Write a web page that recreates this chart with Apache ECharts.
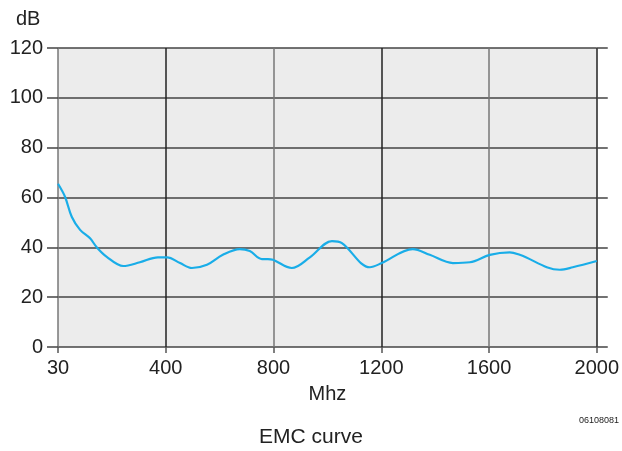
<!DOCTYPE html>
<html>
<head>
<meta charset="utf-8">
<script src="https://cdn.jsdelivr.net/npm/echarts@6/dist/echarts.min.js"></script>
<style>
  html, body { margin: 0; padding: 0; background: #fff; }
  #chart { width: 622px; height: 451px; }
</style>
</head>
<body>
<div id="chart"></div>
<script>
// frequency (MHz, axis starts at 0 though labelled 30) and level (dB)
const freqs = [0, 26, 51, 82, 119, 144, 181, 242, 304, 371, 405, 453, 497, 553, 612, 675, 712, 757, 779, 798, 868, 935, 1017, 1054, 1158, 1202, 1317, 1380, 1466, 1529, 1603, 1677, 1714, 1863, 1911, 2000]
const levels = [65.5, 60.3, 52.3, 47, 43.6, 40, 36.2, 32.5, 34, 36, 36, 33.7, 31.7, 33, 37, 39.3, 38.5, 35.3, 35.3, 35, 31.7, 36, 42.5, 41.7, 32, 33.7, 39.3, 37, 33.7, 34, 37, 38, 37, 31, 32, 34.5]
const xTickLabels = { 0: '30', 400: '400', 800: '800', 1200: '1200', 1600: '1600', 2000: '2000' }

const font = 'Liberation Sans, Arial, sans-serif'
const chart = echarts.init(document.getElementById('chart'), null, { renderer: 'canvas' })

const yCommon = {
  type: 'value',
  min: 0,
  max: 120,
  interval: 20,
  axisLine: { show: false },
  axisTick: { show: true, length: 11, lineStyle: { color: '#444', width: 1.5 } },
}

chart.setOption({
  animation: false,
  backgroundColor: '#fff',
  grid: {
    left: 58, right: 25, top: 48, bottom: 104,
    show: true, backgroundColor: '#ececec', borderWidth: 0,
  },
  graphic: [
    { type: 'text', left: 16, top: 9, style: { text: 'dB', font: '20px ' + font, fill: '#222' } },
    { type: 'text', right: 3, top: 416, style: { text: '06108081', font: '9px ' + font, fill: '#222' } },
    { type: 'text', left: 'center', top: 427, style: { text: 'EMC curve', font: '21px ' + font, fill: '#222' } },
  ],
  xAxis: {
    type: 'value',
    min: 0,
    max: 2000,
    interval: 400,
    name: 'Mhz',
    nameLocation: 'middle',
    nameGap: 37,
    nameTextStyle: { color: '#222', fontSize: 20, fontFamily: font },
    axisLine: { show: false },
    axisTick: { show: true, length: 6, lineStyle: { color: '#555', width: 1.5 } },
    axisLabel: {
      color: '#222', fontSize: 20, fontFamily: font, margin: 11,
      formatter: v => xTickLabels[v] ?? String(v),
    },
    splitLine: { show: true, lineStyle: { color: ['#777', '#222'], width: 1.5 } },
  },
  yAxis: [
    {
      ...yCommon,
      position: 'left',
      axisLabel: { color: '#222', fontSize: 20, fontFamily: font, margin: 15 },
      splitLine: { show: true, lineStyle: { color: '#444', width: 1.5 } },
    },
    {
      ...yCommon,
      position: 'right',
      axisLabel: { show: false },
      splitLine: { show: false },
    },
  ],
  series: [
    {
      type: 'line',
      data: freqs.map((f, i) => [f, levels[i]]),
      smooth: 0.35,
      showSymbol: false,
      lineStyle: { color: '#19ade8', width: 2.2 },
    },
  ],
})
</script>
</body>
</html>
